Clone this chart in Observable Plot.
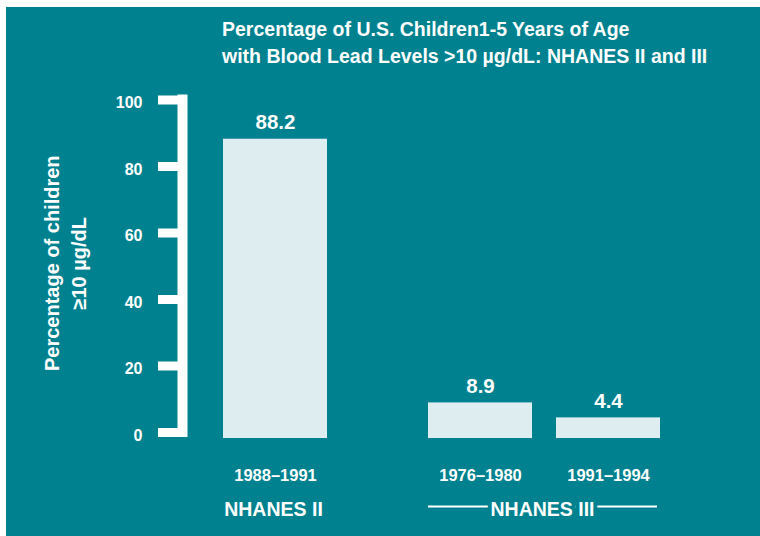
<!DOCTYPE html>
<html>
<head>
<meta charset="utf-8">
<script src="https://cdn.jsdelivr.net/npm/d3@7"></script>
<script src="https://cdn.jsdelivr.net/npm/@observablehq/plot@0.6"></script>
<style>
  html, body { margin: 0; padding: 0; background: #ffffff; }
  #wrap { position: relative; width: 760px; height: 536px; overflow: hidden; background: #ffffff; }
  #panel { position: absolute; left: 6px; top: 7px; right: 0; bottom: 0; background: #00818F; }
  #title { position: absolute; left: 222px; top: 16px; color: #ffffff; white-space: nowrap;
           font: bold 19.5px/26.5px "Liberation Sans", Arial, Helvetica, sans-serif; }
  #chart { position: absolute; left: 0; top: 0; }
</style>
</head>
<body>
<div id="wrap">
  <div id="panel"></div>
  <div id="chart"></div>
  <div id="title"></div>
</div>
<script>
// ---- data ----
const titleLines = [
  "Percentage of U.S. Children1-5 Years of Age",
  "with Blood Lead Levels >10 \u00b5g/dL: NHANES II and III"
];
const periods = ["1988\u20131991", "1976\u20131980", "1991\u20131994"];
const values = [88.2, 8.9, 4.4];
const surveys = ["NHANES II", "NHANES III", "NHANES III"];
const yTicks = [0, 20, 40, 60, 80, 100];
const yTitleLines = ["Percentage of children", "\u226510 \u00b5g/dL"];

// ---- styles ----
const TEAL = "#00818F", BAR = "#DDEDF0", WHITE = "#ffffff";
const SANS = '"Liberation Sans", Arial, Helvetica, sans-serif';
const STEP = 128;                       // band step in px
const groupShift = {"NHANES II": 0, "NHANES III": 77}; // extra gap between survey groups

const fmt = d3.format(".1f");
const data = periods.map((p, i) => ({period: p, value: values[i], survey: surveys[i]}));
const groups = Array.from(new Set(surveys));

document.getElementById("title").innerHTML = titleLines.map(t => t.replace(/&/g,"&amp;").replace(/</g,"&lt;").replace(/>/g,"&gt;")).join("<br>");

const marks = [];
// axis line
marks.push(Plot.ruleX([periods[0]], {x: d => d, y1: 0, y2: 100, dx: -93, stroke: WHITE, strokeWidth: 10, strokeLinecap: "square"}));
// y axis ticks
marks.push(Plot.axisY({ticks: yTicks, anchor: "left", tickSize: 29, dx: -12, tickFormat: () => "",
  stroke: WHITE, strokeWidth: 9, label: null}));
// y axis tick labels
marks.push(Plot.axisY({ticks: yTicks, anchor: "left", tickSize: 0, tickPadding: 45, dx: -12, dy: 3,
  color: WHITE, fill: WHITE, fontSize: 16, fontWeight: "bold", fontFamily: SANS, label: null}));
// y title
marks.push(Plot.text([yTitleLines.join("\n")], {text: d => d, frameAnchor: "left", textAnchor: "middle", rotate: -90,
  lineAnchor: "bottom", lineHeight: 1.335, dx: -114, dy: -3, fill: WHITE, fontSize: 20, fontWeight: "bold", fontFamily: SANS}));

for (const g of groups) {
  const rows = data.filter(d => d.survey === g);
  const shift = groupShift[g];
  const span = (rows.length - 1) * STEP / 2;
  marks.push(Plot.barY(rows, {x: "period", y: "value", fill: BAR, insetBottom: -6, dx: shift}));
  marks.push(Plot.text(rows, {x: "period", y: "value", text: d => fmt(d.value), dx: shift, dy: -10, lineAnchor: "bottom",
    fill: WHITE, fontSize: 20.5, fontWeight: "bold", fontFamily: SANS}));
  marks.push(Plot.text(rows, {x: "period", text: "period", frameAnchor: "bottom", lineAnchor: "bottom", textAnchor: "middle",
    dx: shift, dy: 48, fill: WHITE, fontSize: 16.5, fontWeight: "bold", fontFamily: SANS}));
  if (rows.length > 1) {
    marks.push(Plot.ruleY([rows], {x1: r => r[0].period, x2: r => r[r.length - 1].period, y: 0, dx: shift, dy: 74,
      insetLeft: 0, insetRight: 3, stroke: WHITE, strokeWidth: 2}));
  }
  marks.push(Plot.text([g], {x: () => rows[0].period, text: d => d, frameAnchor: "bottom", lineAnchor: "bottom", textAnchor: "middle",
    dx: shift + span - 2, dy: 83, fill: WHITE, stroke: TEAL, strokeWidth: 8, paintOrder: "stroke", strokeLinejoin: "round",
    fontSize: 19.5, fontWeight: "bold", fontFamily: SANS}));
}

const chart = Plot.plot({
  width: 760,
  height: 536,
  marginTop: 99.5,
  marginBottom: 104,
  marginLeft: 199,
  marginRight: 153,
  style: {background: "transparent", color: WHITE, fontFamily: SANS, overflow: "visible"},
  x: {type: "band", domain: periods, padding: 0.1875, round: true, axis: null},
  y: {domain: [0, 100]},
  marks
});
document.getElementById("chart").appendChild(chart);
</script>
</body>
</html>
